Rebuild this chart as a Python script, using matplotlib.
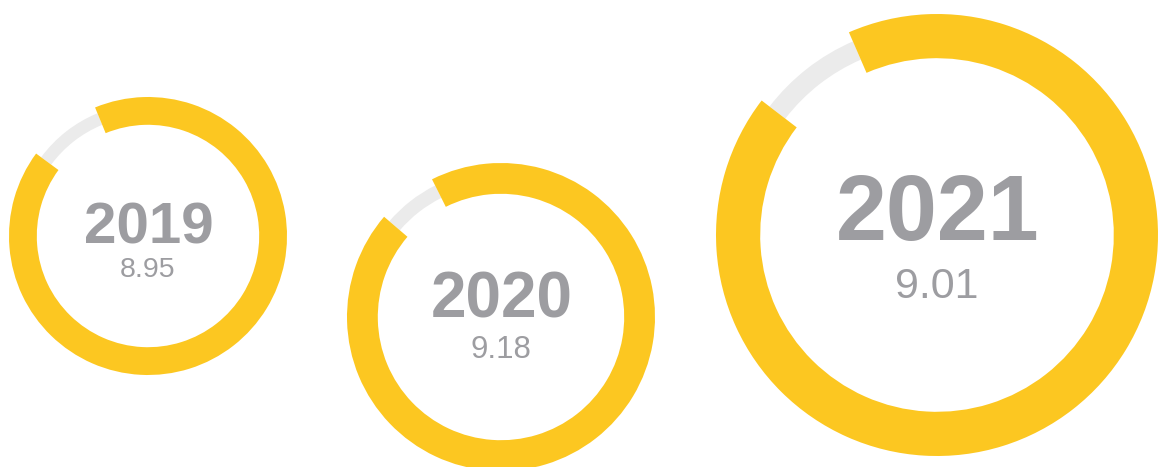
import matplotlib.pyplot as plt

# Data
years = ["2019", "2020", "2021"]
scores = [8.95, 9.18, 9.01]
scale_max = 9.8  # full circle as the graphic draws it

# Layout (pixel positions measured from the top-left corner)
W, H = 1159, 467
ring_x = [148, 501, 937]
ring_y = [236, 317, 235]
ring_r = [139, 154, 221]
year_size = [42, 46, 66]
score_size = [20.5, 22.5, 31]
year_base = [243, 318, 240]
score_base = [277, 358, 298]
gap_center = 128  # degrees

yellow = "#FCC721"
track = "#EBEBEB"
text_grey = "#9D9DA1"

fig = plt.figure(figsize=(W / 100, H / 100), dpi=100)
ax = fig.add_axes([0, 0, 1, 1])

for i in range(len(years)):
    cx, cy, r = ring_x[i], H - ring_y[i], ring_r[i]
    vals = [scores[i], scale_max - scores[i]]
    gap = 360 * (1 - scores[i] / scale_max)
    start = gap_center - gap / 2

    # thin grey track showing the remainder
    ax.pie(vals, radius=r * 0.955, center=(cx, cy), startangle=start,
           counterclock=False, colors=["none", track],
           wedgeprops=dict(width=r * 0.09, linewidth=0))
    # yellow score arc
    ax.pie(vals, radius=r, center=(cx, cy), startangle=start,
           counterclock=False, colors=[yellow, "none"],
           wedgeprops=dict(width=r * 0.2, linewidth=0))

    ax.text(cx + 1, H - year_base[i], years[i], ha="center", va="baseline",
            fontsize=year_size[i], fontweight="bold", color=text_grey,
            family="Liberation Sans")
    ax.text(cx, H - score_base[i], f"{scores[i]:.2f}", ha="center", va="baseline",
            fontsize=score_size[i], color=text_grey, family="Liberation Sans")

ax.set_xlim(0, W)
ax.set_ylim(0, H)
ax.set_aspect("equal")
ax.axis("off")

fig.savefig("out.png", dpi=100, facecolor="white")
